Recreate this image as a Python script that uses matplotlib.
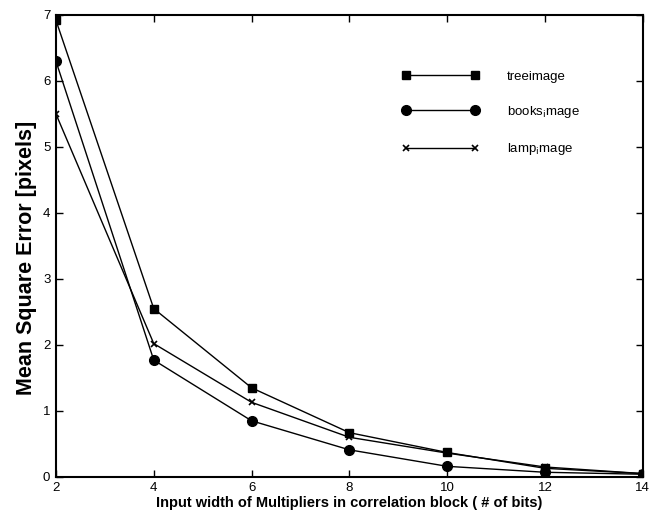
import matplotlib
matplotlib.use("Agg")
import matplotlib.pyplot as plt

plt.rcParams['font.family'] = ['Liberation Sans', 'DejaVu Sans']

bits = [2, 4, 6, 8, 10, 12, 14]
tree = [6.92, 2.55, 1.35, 0.67, 0.37, 0.13, 0.05]
books = [6.30, 1.77, 0.85, 0.41, 0.16, 0.07, 0.04]
lamp = [5.50, 2.02, 1.13, 0.60, 0.36, 0.15, 0.05]
xticks = [2, 4, 6, 8, 10, 12, 14]
yticks = [0, 1, 2, 3, 4, 5, 6, 7]

fig = plt.figure(figsize=(6.58, 5.15), dpi=100)
ax = fig.add_axes([0.085, 0.074, 0.892, 0.897])

ax.plot(bits, tree, color='black', lw=1.0, marker='s', ms=6, label='treeimage')
ax.plot(bits, books, color='black', lw=1.0, marker='o', ms=7, label=r'books$_{\rm i}$mage')
ax.plot(bits, lamp, color='black', lw=1.0, marker='x', ms=4, mew=1.2, label=r'lamp$_{\rm i}$mage')

ax.set_xlim(2, 14)
ax.set_ylim(0, 7)
ax.set_xticks(xticks)
ax.set_yticks(yticks)
ax.tick_params(direction='in', top=True, right=True, length=5, width=1, labelsize=9.5, pad=4)
for s in ax.spines.values():
    s.set_linewidth(1.5)

ax.set_xlabel('Input width of Multipliers in correlation block ( # of bits)', fontsize=10.5, fontweight='bold', labelpad=1)
ax.set_ylabel('Mean Square Error [pixels]', fontsize=15.5, fontweight='bold')
ax.yaxis.set_label_coords(-0.033, 0.475)

leg = ax.legend(loc='upper right', bbox_to_anchor=(0.913, 0.905), frameon=False, fontsize=9.5,
                handlelength=5.85, labelspacing=1.6, handletextpad=2.1, numpoints=2)

fig.savefig('out.png', dpi=100)
